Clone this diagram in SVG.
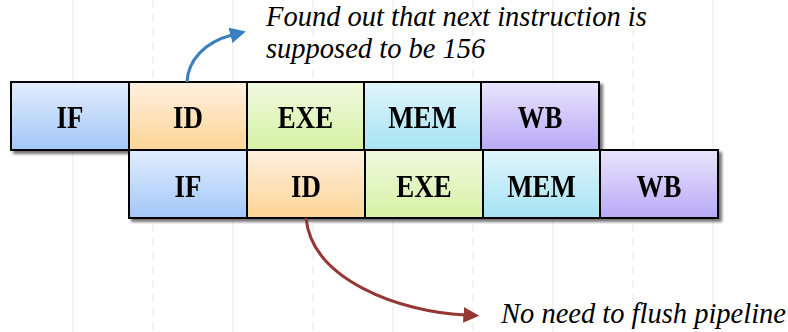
<svg xmlns="http://www.w3.org/2000/svg" width="788" height="332" viewBox="0 0 788 332">
  <defs>
    <linearGradient id="gIF" x1="0" y1="0" x2="0" y2="1">
      <stop offset="0" stop-color="#e2edfd"/>
      <stop offset="1" stop-color="#a2c7f8"/>
    </linearGradient>
    <linearGradient id="gID" x1="0" y1="0" x2="0" y2="1">
      <stop offset="0" stop-color="#fef0df"/>
      <stop offset="1" stop-color="#fdd596"/>
    </linearGradient>
    <linearGradient id="gEXE" x1="0" y1="0" x2="0" y2="1">
      <stop offset="0" stop-color="#f0f9e0"/>
      <stop offset="1" stop-color="#d5f2a3"/>
    </linearGradient>
    <linearGradient id="gMEM" x1="0" y1="0" x2="0" y2="1">
      <stop offset="0" stop-color="#e0f5fb"/>
      <stop offset="1" stop-color="#a6e3f3"/>
    </linearGradient>
    <linearGradient id="gWB" x1="0" y1="0" x2="0" y2="1">
      <stop offset="0" stop-color="#e9e5fc"/>
      <stop offset="1" stop-color="#b8a9f6"/>
    </linearGradient>
    <filter id="shadow" x="-10%" y="-10%" width="130%" height="140%">
      <feGaussianBlur in="SourceAlpha" stdDeviation="1.8"/>
      <feOffset dx="3" dy="3" result="b"/>
      <feComponentTransfer><feFuncA type="linear" slope="0.55"/></feComponentTransfer>
      <feMerge><feMergeNode/><feMergeNode in="SourceGraphic"/></feMerge>
    </filter>
    <marker id="headBlue" viewBox="0 0 10 10" refX="1" refY="5" markerWidth="5.3" markerHeight="5.3" markerUnits="strokeWidth" orient="auto">
      <path d="M0,0 L10,5 L0,10 z" fill="#3a7fc1"/>
    </marker>
    <marker id="headRed" viewBox="0 0 10 10" refX="1" refY="5" markerWidth="5.3" markerHeight="5.3" markerUnits="strokeWidth" orient="auto">
      <path d="M0,0 L10,5 L0,10 z" fill="#953735"/>
    </marker>
  </defs>
  <style>
    .grid { stroke: #efefef; stroke-width: 1.5; }
    .grid.dash { stroke-dasharray: 8 6; }
    .box { stroke: #000; stroke-width: 2; }
    .stage { font-family: "Liberation Serif", "Times New Roman", serif; font-weight: bold; font-size: 28px; fill: #000; text-anchor: middle; }
    .note { font-family: "Liberation Serif", "Times New Roman", serif; font-style: italic; font-size: 28.5px; fill: #000; }
    .conn { fill: none; stroke-width: 3; }
  </style>

  <rect width="788" height="332" fill="#ffffff"/>

  <!-- background time grid -->
  <g id="grid">
    <line class="grid" x1="73" y1="0" x2="73" y2="332"/>
    <line class="grid dash" x1="153" y1="0" x2="153" y2="332"/>
    <line class="grid" x1="233" y1="0" x2="233" y2="332"/>
    <line class="grid dash" x1="313" y1="0" x2="313" y2="332"/>
    <line class="grid" x1="393" y1="0" x2="393" y2="332"/>
    <line class="grid dash" x1="473" y1="0" x2="473" y2="332"/>
    <line class="grid" x1="553" y1="0" x2="553" y2="332"/>
    <line class="grid dash" x1="633" y1="0" x2="633" y2="332"/>
    <line class="grid" x1="713" y1="0" x2="713" y2="332"/>
  </g>

  <!-- first instruction -->
  <g id="row1" filter="url(#shadow)">
    <g id="r1-if"><rect class="box" x="11" y="82" width="118" height="68" fill="url(#gIF)"/><text class="stage" transform="translate(70,128) scale(0.96,1.16)">IF</text></g>
    <g id="r1-id"><rect class="box" x="129" y="82" width="118" height="68" fill="url(#gID)"/><text class="stage" transform="translate(188,128) scale(0.96,1.16)">ID</text></g>
    <g id="r1-exe"><rect class="box" x="247" y="82" width="117" height="68" fill="url(#gEXE)"/><text class="stage" transform="translate(305.5,128) scale(0.96,1.16)">EXE</text></g>
    <g id="r1-mem"><rect class="box" x="364" y="82" width="117" height="68" fill="url(#gMEM)"/><text class="stage" transform="translate(422.5,128) scale(0.96,1.16)">MEM</text></g>
    <g id="r1-wb"><rect class="box" x="481" y="82" width="118" height="68" fill="url(#gWB)"/><text class="stage" transform="translate(540,128) scale(0.96,1.16)">WB</text></g>
  </g>

  <!-- second instruction -->
  <g id="row2" filter="url(#shadow)">
    <g id="r2-if"><rect class="box" x="129" y="150" width="118" height="68" fill="url(#gIF)"/><text class="stage" transform="translate(188,197) scale(0.96,1.16)">IF</text></g>
    <g id="r2-id"><rect class="box" x="247" y="150" width="118" height="68" fill="url(#gID)"/><text class="stage" transform="translate(306,197) scale(0.96,1.16)">ID</text></g>
    <g id="r2-exe"><rect class="box" x="365" y="150" width="118" height="68" fill="url(#gEXE)"/><text class="stage" transform="translate(424,197) scale(0.96,1.16)">EXE</text></g>
    <g id="r2-mem"><rect class="box" x="483" y="150" width="117" height="68" fill="url(#gMEM)"/><text class="stage" transform="translate(541.5,197) scale(0.96,1.16)">MEM</text></g>
    <g id="r2-wb"><rect class="box" x="600" y="150" width="118" height="68" fill="url(#gWB)"/><text class="stage" transform="translate(659,197) scale(0.96,1.16)">WB</text></g>
  </g>

  <!-- annotation arrows -->
  <g id="connectors">
    <path class="conn" stroke="#3a7fc1" d="M187,82 C188,60 205,42 232,35" marker-end="url(#headBlue)"/>
    <path class="conn" stroke="#953735" d="M306,218 C312,280 400,312 465,315" marker-end="url(#headRed)"/>
  </g>

  <g id="notes">
    <text class="note" x="266" y="26">Found out that next instruction is</text>
    <text class="note" x="266" y="58">supposed to be 156</text>
    <text class="note" x="501" y="323">No need to flush pipeline</text>
  </g>
</svg>
